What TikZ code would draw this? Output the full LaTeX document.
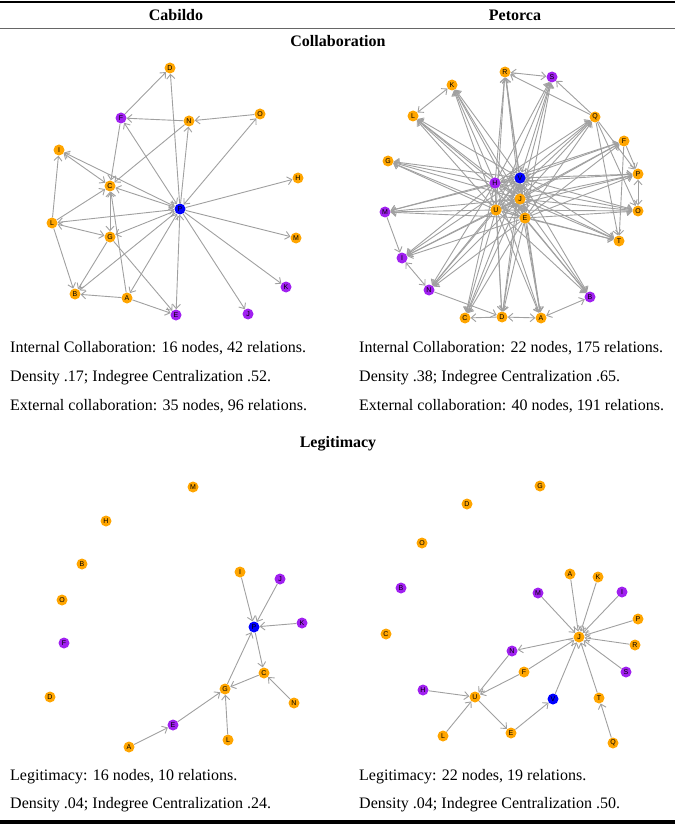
\documentclass[tikz,border=0pt]{standalone}
\usepackage{fontspec}
\setmainfont{Liberation Serif}
\newfontfamily\actorfont{Liberation Sans}
\usetikzlibrary{arrows.meta}
\definecolor{actorfill}{HTML}{FFA500}
\definecolor{orgfill}{HTML}{A020F0}
\definecolor{hubfill}{HTML}{0000FF}
\definecolor{tiegray}{HTML}{A0A0A0}
\begin{document}
\begin{tikzpicture}[x=1pt, y=-1pt, font=\fontsize{16}{18}\selectfont,
    actor/.style={circle, fill=actorfill, inner sep=0pt, minimum size=11pt, font=\actorfont\fontsize{7}{7}\selectfont},
    org/.style={actor, fill=orgfill},
    hub/.style={actor, fill=hubfill},
    tie/.style={draw=tiegray, line width=0.9pt, -{Straight Barb[length=4.5pt, width=8pt]}},
    mutual/.style={tie, {Straight Barb[length=4.5pt, width=8pt]}-{Straight Barb[length=4.5pt, width=8pt]}},
    stat/.style={anchor=west, inner sep=0pt}]
    \useasboundingbox (0,0) rectangle (675,826);
    % table rules and headings
    \draw[line width=2.5pt] (0,2) -- (675,2);
    \draw[line width=1pt, black!60] (0,29) -- (675,29);
    \draw[line width=3.5pt] (0,822) -- (675,822);
    \node[font=\bfseries\fontsize{16}{18}\selectfont] (headC) at (176,15) {Cabildo};
    \node[font=\bfseries\fontsize{16}{18}\selectfont] (headP) at (515,15) {Petorca};
    \node[font=\bfseries\fontsize{16}{18}\selectfont] (headColl) at (338,41) {Collaboration};
    \node[font=\bfseries\fontsize{16}{18}\selectfont] (headLeg) at (338,444) {Legitimacy};

    % Cabildo, collaboration
    \node[actor] (cabD) at (170,68) {D};
    \node[org]   (cabF) at (121,118) {F};
    \node[actor] (cabN) at (189,121) {N};
    \node[actor] (cabO) at (260,114) {O};
    \node[actor] (cabI) at (59,150) {I};
    \node[actor] (cabC) at (110,186) {C};
    \node[actor] (cabH) at (298,178) {H};
    \node[hub]   (cabP) at (180,209) {P};
    \node[actor] (cabL) at (52,223) {L};
    \node[actor] (cabG) at (110,237) {G};
    \node[actor] (cabM) at (296,238) {M};
    \node[actor] (cabB) at (75,294) {B};
    \node[actor] (cabA) at (127,298) {A};
    \node[org]   (cabK) at (286,287) {K};
    \node[org]   (cabE) at (176,315) {E};
    \node[org]   (cabJ) at (248,314) {J};
    \foreach \s/\t in {F/D, P/D, N/F, O/N, P/N, F/C, N/C, P/H, L/I, L/C, P/M, P/K, P/J, P/B, A/B, A/E, A/C, G/B, G/E, L/B}
        \draw[tie] (cab\s) -- (cab\t);
    \foreach \s/\t in {P/O, P/F, I/C, I/P, C/P, P/L, L/G, C/G, G/P, P/E, A/P}
        \draw[mutual] (cab\s) -- (cab\t);

    % Petorca, collaboration
    \node[actor] (petR) at (505,72) {R};
    \node[org]   (petS) at (552,77) {S};
    \node[actor] (petK) at (452,85) {K};
    \node[actor] (petL) at (413,116) {L};
    \node[actor] (petQ) at (595,117) {Q};
    \node[actor] (petF) at (624,141) {F};
    \node[actor] (petG) at (388,161) {G};
    \node[actor] (petP) at (638,174) {P};
    \node[org]   (petM) at (385,212) {M};
    \node[actor] (petO) at (638,211) {O};
    \node[actor] (petT) at (619,241) {T};
    \node[org]   (petI) at (402,258) {I};
    \node[org]   (petN) at (429,290) {N};
    \node[org]   (petB) at (590,297) {B};
    \node[actor] (petC) at (465,318) {C};
    \node[actor] (petD) at (502,317) {D};
    \node[actor] (petA) at (541,318) {A};
    \node[hub]   (petV) at (520,178) {V};
    \node[org]   (petH) at (495,183) {H};
    \node[actor] (petJ) at (520,199) {J};
    \node[actor] (petU) at (496,210) {U};
    \node[actor] (petE) at (525,218) {E};
    \foreach \h in {V,J}
        \foreach \t in {R,S,K,L,Q,F,G,P,M,O,T,I,N,B,C,D,A}
            \draw[mutual] (pet\h) -- (pet\t);
    \foreach \h in {H,U,E}
        \foreach \t in {R,S,K,L,Q,F,G,P,M,O,T,I,N,B,C,D,A}
            \draw[tie] (pet\h) -- (pet\t);
    \foreach \s/\t in {V/H, V/J, V/U, V/E, H/J, H/U, J/U, J/E, U/E}
        \draw[mutual] (pet\s) -- (pet\t);
    \foreach \s/\t in {Q/R, Q/S, Q/P, F/P, Q/T, F/T, M/I, N/D, D/C, Q/O}
        \draw[tie] (pet\s) -- (pet\t);
    \foreach \s/\t in {R/S, K/L, P/O, I/N, D/A, A/B}
        \draw[mutual] (pet\s) -- (pet\t);
    % redraw the nodes over the ties
    \foreach \n/\s in {V/hub, H/org, J/actor, U/actor, E/actor}
        \node[\s] at (pet\n) {\n};

    \node[stat] (cabInt) at (10,348) {Internal Collaboration: 16 nodes, 42 relations.};
    \node[stat] (cabDen) at (10,378) {Density .17; Indegree Centralization .52.};
    \node[stat] (cabExt) at (10,406) {External collaboration: 35 nodes, 96 relations.};
    \node[stat] (petInt) at (359,348) {Internal Collaboration: 22 nodes, 175 relations.};
    \node[stat] (petDen) at (359,378) {Density .38; Indegree Centralization .65.};
    \node[stat] (petExt) at (359,406) {External collaboration: 40 nodes, 191 relations.};

    % Cabildo, legitimacy
    \node[actor] (lcabM) at (193,487) {M};
    \node[actor] (lcabH) at (106,521) {H};
    \node[actor] (lcabB) at (82,564) {B};
    \node[actor] (lcabO) at (62,600) {O};
    \node[actor] (lcabI) at (240,572) {I};
    \node[org]   (lcabJ) at (280,579) {J};
    \node[org]   (lcabK) at (302,623) {K};
    \node[hub]   (lcabP) at (254,627) {P};
    \node[org]   (lcabF) at (64,643) {F};
    \node[actor] (lcabC) at (264,673) {C};
    \node[actor] (lcabG) at (225,689) {G};
    \node[actor] (lcabD) at (50,697) {D};
    \node[actor] (lcabN) at (294,703) {N};
    \node[org]   (lcabE) at (173,725) {E};
    \node[actor] (lcabL) at (228,740) {L};
    \node[actor] (lcabA) at (129,747) {A};
    \foreach \s/\t in {I/P, J/P, K/P, P/C, C/G, N/C, G/P, E/G, A/E, L/G}
        \draw[tie] (lcab\s) -- (lcab\t);

    % Petorca, legitimacy
    \node[actor] (lpetG) at (540,486) {G};
    \node[actor] (lpetD) at (467,504) {D};
    \node[actor] (lpetO) at (422,543) {O};
    \node[actor] (lpetA) at (570,574) {A};
    \node[actor] (lpetK) at (598,577) {K};
    \node[org]   (lpetB) at (401,588) {B};
    \node[org]   (lpetM) at (538,593) {M};
    \node[org]   (lpetI) at (622,592) {I};
    \node[actor] (lpetP) at (638,619) {P};
    \node[actor] (lpetC) at (386,634) {C};
    \node[actor] (lpetJ) at (579,637) {J};
    \node[actor] (lpetR) at (635,645) {R};
    \node[org]   (lpetN) at (512,651) {N};
    \node[actor] (lpetF) at (524,672) {F};
    \node[org]   (lpetS) at (626,672) {S};
    \node[org]   (lpetH) at (423,690) {H};
    \node[actor] (lpetU) at (475,697) {U};
    \node[hub]   (lpetV) at (553,699) {V};
    \node[actor] (lpetT) at (599,698) {T};
    \node[actor] (lpetE) at (511,733) {E};
    \node[actor] (lpetL) at (443,736) {L};
    \node[actor] (lpetQ) at (613,743) {Q};
    \foreach \s in {A,K,I,P,R,S,T,M,V,F}
        \draw[tie] (lpet\s) -- (lpetJ);
    \foreach \s/\t in {J/N, N/U, F/U, H/U, L/U, U/E, E/V, Q/T}
        \draw[tie] (lpet\s) -- (lpet\t);

    \node[stat] (lcabInfo) at (10,777) {Legitimacy: 16 nodes, 10 relations.};
    \node[stat] (lcabDen) at (10,805) {Density .04; Indegree Centralization .24.};
    \node[stat] (lpetInfo) at (359,777) {Legitimacy: 22 nodes, 19 relations.};
    \node[stat] (lpetDen) at (359,805) {Density .04; Indegree Centralization .50.};
\end{tikzpicture}
\end{document}
